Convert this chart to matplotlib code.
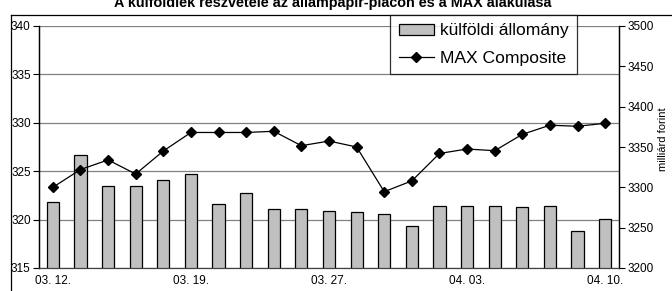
import matplotlib
matplotlib.use('Agg')
import matplotlib.pyplot as plt
from matplotlib.lines import Line2D

plt.rcParams['font.family'] = ['Liberation Sans', 'DejaVu Sans']

dates = ['03. 12.', '03. 13.', '03. 14.', '03. 17.', '03. 18.', '03. 19.', '03. 20.',
         '03. 21.', '03. 25.', '03. 26.', '03. 27.', '03. 28.', '03. 31.', '04. 01.',
         '04. 02.', '04. 03.', '04. 04.', '04. 07.', '04. 08.', '04. 09.', '04. 10.']
kulfoldi = [321.8, 326.7, 323.5, 323.5, 324.1, 324.7, 321.6, 322.7, 321.1, 321.1, 320.9,
            320.75, 320.6, 319.3, 321.4, 321.4, 321.4, 321.3, 321.4, 318.8, 320.1]
max_comp = [3300, 3322, 3334, 3316.5, 3345, 3368, 3368, 3368, 3369.5, 3351.6, 3357.4,
            3350, 3294.6, 3308, 3342, 3347.5, 3345.4, 3365.7, 3377, 3375.7, 3379.4]
label_every = 5

title = 'A külföldiek részvétele az állampapír-piacon és a MAX alakulása'

fig = plt.figure(figsize=(6.72, 2.91), dpi=100)
ax = fig.add_axes([39/672, 1 - 268/291, (619 - 39)/672, (268 - 26)/291])
ax2 = ax.twinx()

x = list(range(len(dates)))
bars = ax.bar(x, kulfoldi, width=0.44, bottom=0, color='#c0c0c0',
              edgecolor='black', linewidth=0.9, zorder=2)
line, = ax2.plot(x, max_comp, color='black', linewidth=0.9, marker='D',
                 markersize=5, zorder=3)

ax.set_xlim(-0.5, len(dates) - 0.5)
ax.set_ylim(315, 340)
ax.set_yticks(range(315, 341, 5))
ax2.set_ylim(3200, 3500)
ax2.set_yticks(range(3200, 3501, 50))

ax.set_xticks(x[::label_every])
ax.set_xticklabels(dates[::label_every])
ax.tick_params(axis='x', length=0, labelsize=8.5, pad=5)
ax.tick_params(axis='y', length=4, labelsize=8.5, pad=2, width=0.8)
ax2.tick_params(axis='y', length=4, labelsize=8.5, pad=2, width=0.8)

ax.grid(axis='y', color='#808080', linewidth=0.9, zorder=0)
ax.set_axisbelow(True)
for a in (ax, ax2):
    a.spines['top'].set_visible(False)
    a.spines['bottom'].set_color('#404040')
    a.spines['left'].set_linewidth(0.9)
    a.spines['right'].set_linewidth(0.9)

fig.text(0.986, 0.52, 'milliárd forint', rotation=90, ha='center', va='center', fontsize=8)

# outer chart border (only left and top visible in crop)
fig.add_artist(Line2D([10.5/672, 10.5/672], [0, 1 - 14.5/291], color='black', linewidth=0.9,
                      transform=fig.transFigure))
fig.add_artist(Line2D([10.5/672, 1], [1 - 14.5/291, 1 - 14.5/291], color='black', linewidth=0.9,
                      transform=fig.transFigure))

fig.text(333/672, 1 - 7.5/291, title, ha='center', va='baseline', fontsize=10.4, fontweight='bold')

leg = fig.legend([bars, line], ['külföldi állomány', 'MAX Composite'],
                 loc='upper right', bbox_to_anchor=(577/672, 1 - 14.5/291),
                 fontsize=12.6, frameon=True, fancybox=False, borderaxespad=0,
                 handlelength=2.0, handleheight=0.6, borderpad=0.5, labelspacing=0.7,
                 handletextpad=0.35)
leg.get_frame().set_edgecolor('black')
leg.get_frame().set_linewidth(0.9)

fig.savefig('out.png', dpi=100)
